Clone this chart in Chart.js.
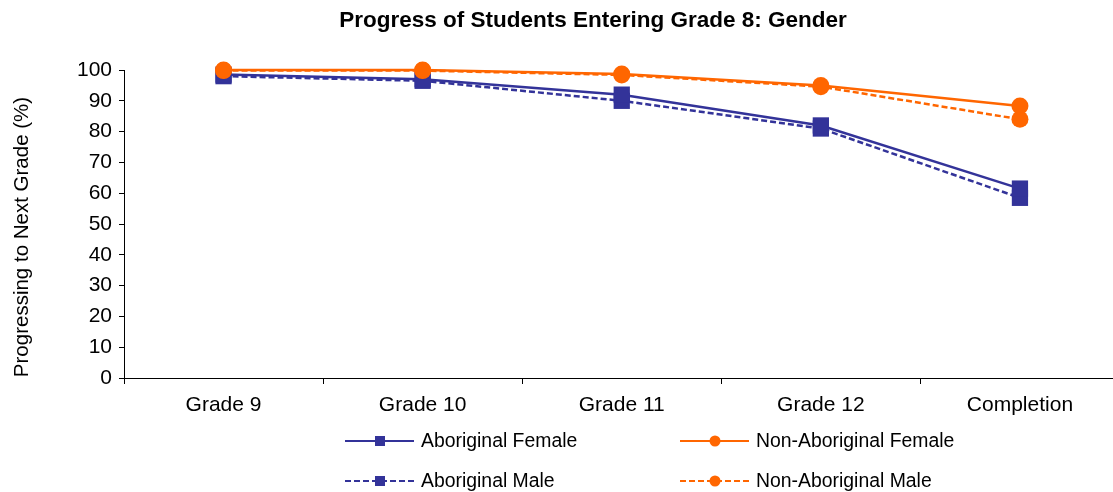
<!DOCTYPE html>
<html>
<head>
<meta charset="utf-8">
<script src="https://cdn.jsdelivr.net/npm/chart.js@4.4.1/dist/chart.umd.min.js"></script>
<style>
  html, body { margin: 0; padding: 0; background: #fff; overflow: hidden; }
  #wrap { width: 1131px; height: 492px; }
</style>
</head>
<body>
<div id="wrap"><canvas id="progressChart"></canvas></div>
<script>
// --- Data ---
const categories = ['Grade 9', 'Grade 10', 'Grade 11', 'Grade 12', 'Completion'];
const aboriginalFemale = [98.5, 97, 92, 82, 61.5];
const aboriginalMale = [98, 96.5, 90, 81, 58.5];
const nonAboriginalFemale = [100, 100, 98.7, 95, 88.3];
const nonAboriginalMale = [99.8, 99.8, 98.4, 94.6, 84];
const yTicks = [0, 10, 20, 30, 40, 50, 60, 70, 80, 90, 100];

const NAVY = '#333399';
const ORANGE = '#FF6600';
const FONT = "'Liberation Sans', Arial, sans-serif";

// --- Chart title and rotated y-axis title ---
const titlePlugin = {
    id: 'chartTitle',
    afterDraw(chart) {
        const ctx = chart.ctx;
        ctx.save();
        ctx.fillStyle = '#000';
        ctx.font = 'bold 22.5px ' + FONT;
        ctx.textAlign = 'center';
        ctx.textBaseline = 'middle';
        ctx.fillText('Progress of Students Entering Grade 8: Gender', 593, 21);

        ctx.translate(22, 237);
        ctx.rotate(-Math.PI / 2);
        ctx.font = '20.5px ' + FONT;
        ctx.fillText('Progressing to Next Grade (%)', 0, 0);
        ctx.restore();
    }
};

// --- 2x2 legend under the axis ---
const legendPlugin = {
    id: 'gridLegend',
    afterDraw(chart) {
        const ctx = chart.ctx;
        const slots = [
            { idx: 0, x: 345, y: 441 },
            { idx: 2, x: 680, y: 441 },
            { idx: 1, x: 345, y: 481 },
            { idx: 3, x: 680, y: 481 }
        ];
        ctx.save();
        slots.forEach(s => {
            const ds = chart.data.datasets[s.idx];
            ctx.strokeStyle = ds.borderColor;
            ctx.lineWidth = 2;
            ctx.setLineDash(ds.borderDash || []);
            ctx.beginPath();
            ctx.moveTo(s.x, s.y);
            ctx.lineTo(s.x + 69, s.y);
            ctx.stroke();
            ctx.setLineDash([]);
            ctx.fillStyle = ds.borderColor;
            const cx = s.x + 35;
            if (ds.pointStyle === 'rect') {
                ctx.fillRect(cx - 5, s.y - 5, 10, 10);
            } else {
                ctx.beginPath();
                ctx.arc(cx, s.y, 5.5, 0, Math.PI * 2);
                ctx.fill();
            }
            ctx.fillStyle = '#000';
            ctx.font = '19.4px ' + FONT;
            ctx.textAlign = 'left';
            ctx.textBaseline = 'middle';
            ctx.fillText(ds.label, s.x + 76, s.y + 1);
        });
        ctx.restore();
    }
};

function series(label, data, color, dashed, style, order) {
    return {
        label: label,
        data: data,
        borderColor: color,
        backgroundColor: color,
        borderWidth: 2.5,
        borderDash: dashed ? [6, 3] : [],
        pointStyle: style,
        pointRadius: style === 'rect' ? 11.5 : 8.5,
        pointBorderWidth: 0,
        pointHoverRadius: style === 'rect' ? 11.5 : 8.5,
        tension: 0,
        clip: false,
        order: order
    };
}

const ctx = document.getElementById('progressChart').getContext('2d');

new Chart(ctx, {
    type: 'line',
    data: {
        labels: categories,
        datasets: [
            series('Aboriginal Female', aboriginalFemale, NAVY, false, 'rect', 2),
            series('Aboriginal Male', aboriginalMale, NAVY, true, 'rect', 3),
            series('Non-Aboriginal Female', nonAboriginalFemale, ORANGE, false, 'circle', 0),
            series('Non-Aboriginal Male', nonAboriginalMale, ORANGE, true, 'circle', 1)
        ]
    },
    plugins: [titlePlugin, legendPlugin],
    options: {
        responsive: true,
        maintainAspectRatio: false,
        animation: false,
        events: [],
        layout: { padding: { top: 70, right: 6, left: 0, bottom: 0 } },
        plugins: {
            legend: { display: false },
            title: { display: false },
            tooltip: { enabled: false }
        },
        scales: {
            x: {
                offset: true,
                afterFit(scale) { scale.height = 114; },
                border: { display: true, color: '#000', width: 1 },
                grid: {
                    offset: true,
                    drawOnChartArea: false,
                    drawTicks: true,
                    tickLength: 6,
                    color: '#000'
                },
                ticks: {
                    color: '#000',
                    font: { family: FONT, size: 21 },
                    padding: 9,
                    maxRotation: 0
                }
            },
            y: {
                min: 0,
                max: 100,
                afterFit(scale) { scale.width = 124; },
                afterBuildTicks(scale) { scale.ticks = yTicks.map(v => ({ value: v })); },
                border: { display: true, color: '#000', width: 1 },
                grid: {
                    drawOnChartArea: false,
                    drawTicks: true,
                    tickLength: 5,
                    color: '#000'
                },
                ticks: {
                    color: '#000',
                    font: { family: FONT, size: 21 },
                    padding: 7
                }
            }
        }
    }
});
</script>
</body>
</html>
